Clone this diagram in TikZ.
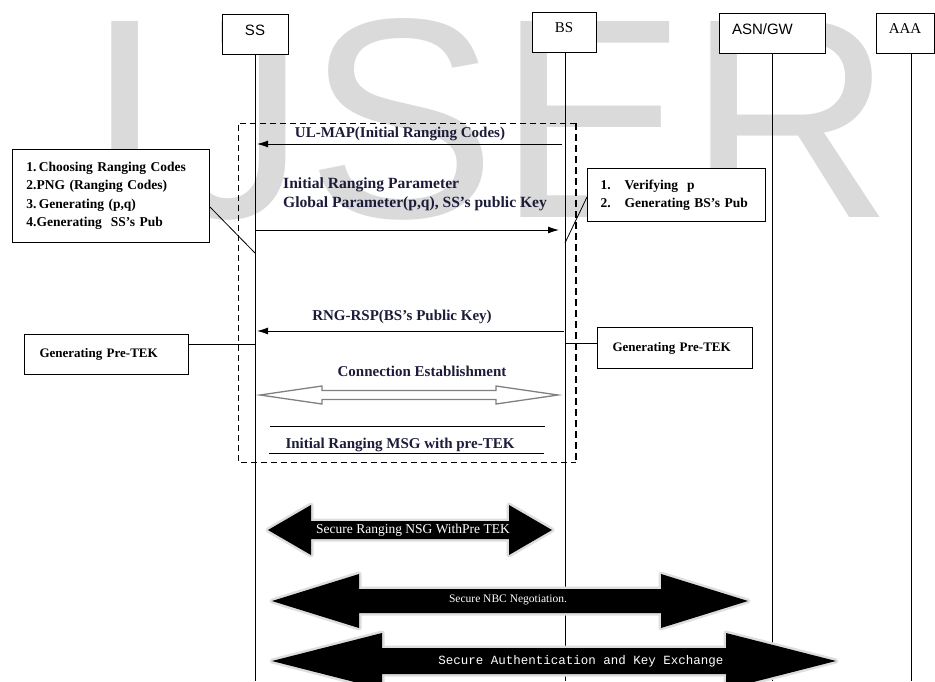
\documentclass[tikz,border=0pt]{standalone}
\usepackage{fontspec}
\setmainfont{Liberation Serif}
\setmonofont{Liberation Mono}
\newfontfamily\hdrsans{Liberation Sans}
\newfontfamily\wmfont{Liberation Sans}
\usetikzlibrary{arrows.meta}

\definecolor{wmgray}{RGB}{218,218,218}
\definecolor{lblcol}{RGB}{28,28,58}
\definecolor{glow}{RGB}{222,222,222}

% double arrow: #1 style, #2 left tip, #3 right tip, #4 mid y, #5 head length, #6 half head, #7 half shaft
\newcommand{\dblarrow}[7]{%
  \path[#1] (#2,#4) -- ({#2+#5},{#4-#6}) -- ({#2+#5},{#4-#7}) -- ({#3-#5},{#4-#7})
    -- ({#3-#5},{#4-#6}) -- (#3,#4) -- ({#3-#5},{#4+#6}) -- ({#3-#5},{#4+#7})
    -- ({#2+#5},{#4+#7}) -- ({#2+#5},{#4+#6}) -- cycle;}

\begin{document}
\begin{tikzpicture}[x=1pt,y=-1pt,
    hdr/.style={draw, fill=white, line width=1pt, minimum height=40pt, inner sep=0pt, text depth=8pt, font=\fontsize{15}{15}\selectfont},
    note/.style={draw, fill=white, line width=1pt, align=left, inner ysep=0pt, font=\fontsize{13.5}{18.5}\selectfont\bfseries},
    lbl/.style={inner sep=0pt, text=lblcol, font=\fontsize{15}{19}\selectfont\bfseries},
    life/.style={line width=.8pt},
    msg/.style={-{Latex[length=11pt,width=7pt]}, line width=.9pt},
    hollow/.style={draw=gray, line width=1.3pt, fill=white},
    fat/.style={fill=black, preaction={draw=glow, line width=5pt, line join=round}},
    fattxt/.style={inner sep=0pt, text=white}
]
\useasboundingbox (0,0) rectangle (935,681);

% watermark
\node[anchor=base west, inner sep=0pt, text=wmgray, font=\wmfont\fontsize{285}{285}\selectfont] (wm) at (85,217) {IJSER};

% dashed frame
\draw[line width=.8pt, dash pattern=on 6pt off 4pt] (576,123) -- (238,123) -- (238,462) -- (576,462);
\draw[line width=2.2pt, dash pattern=on 7pt off 4pt] (576,123) -- (576,462);

% entities
\node[hdr, minimum width=66pt, font=\hdrsans\fontsize{15}{15}\selectfont] (ss) at (255,34.5) {SS};
\node[hdr, minimum width=64pt] (bs) at (564,32) {BS};
\node[hdr, minimum width=106pt, text width=80pt, align=left, font=\hdrsans\fontsize{15}{15}\selectfont] (asn) at (772,33) {ASN/GW};
\node[hdr, minimum width=58pt] (aaa) at (905,33) {AAA};

% lifelines
\coordinate (ssL) at (ss.south);
\coordinate (bsL) at ([xshift=1pt]bs.south);
\coordinate (asnL) at (asn.south);
\coordinate (aaaL) at ([xshift=6pt]aaa.south);
\foreach \n in {ssL,bsL,asnL,aaaL}
  \draw[life] (\n) -- (\n |- 0,681);

% ranging messages
\draw[msg, shorten <=3pt, shorten >=2pt] (bsL |- 0,144) -- (ssL |- 0,144);
\node[lbl] (ulmap) at (400,134) {UL-MAP(Initial Ranging Codes)};

\node[lbl, anchor=west, align=left, font=\fontsize{15.6}{19}\selectfont\bfseries] (irp) at (283,194) {Initial Ranging Parameter\\Global Parameter(p,q), SS's public Key};
\draw[msg, shorten >=6pt] (ssL |- 0,230) -- (bsL |- 0,230);

\node[note, anchor=north west, minimum width=197pt, minimum height=93pt, text width=169pt, inner xsep=14pt] (prep) at (12,149)
  {1.\,Choosing Ranging Codes\\2.PNG (Ranging Codes)\\3.\,Generating (p,q)\\4.Generating\ \ SS's Pub};
\draw[life] (prep.east |- 0,207) -- (ssL |- 0,253);

\node[note, anchor=north west, minimum width=178pt, minimum height=53pt, text width=152pt, inner xsep=13pt] (verif) at (587,168)
  {1.\hspace{14pt}Verifying\ \ p\\2.\hspace{14pt}Generating BS's Pub};
\draw[life] (verif.west |- 0,197) -- (bsL |- 0,243);

\draw[msg, shorten <=1pt, shorten >=2pt] (bsL |- 0,331) -- (ssL |- 0,331);
\node[lbl] (rngrsp) at (402,317) {RNG-RSP(BS's Public Key)};

% pre-TEK generation
\node[note, anchor=north west, minimum width=164pt, minimum height=40pt, text width=134pt, inner xsep=15pt, font=\fontsize{13}{15}\selectfont\bfseries] (lpre) at (24,334) {Generating Pre-TEK};
\draw[life] (lpre.east |- 0,344) -- (ssL |- 0,344);
\node[note, anchor=north west, minimum width=155pt, minimum height=41pt, text width=125pt, inner xsep=15pt, font=\fontsize{13}{15}\selectfont\bfseries] (rpre) at (597,327) {Generating Pre-TEK};
\draw[life] (bsL |- 0,343) -- (rpre.west |- 0,343);

% connection establishment
\node[lbl] (conn) at (422,371) {Connection Establishment};
\dblarrow{hollow}{260}{558}{395}{62}{9}{4.5}
\draw[life] (270,426) -- (545,426);
\node[lbl] (irmsg) at (400,445) {Initial Ranging MSG with pre-TEK};
\draw[life] (269,453) -- (544,453);

% secure exchanges
\dblarrow{fat}{268}{552}{530}{43}{25}{9}
\node[fattxt, font=\fontsize{13.5}{15}\selectfont] (sec1) at (413,530) {Secure Ranging NSG WithPre TEK};
\dblarrow{fat}{272}{748}{601}{87}{27}{12}
\node[fattxt, font=\fontsize{11.5}{13}\selectfont] (sec2) at (508,600) {Secure NBC Negotiation.};
\dblarrow{fat}{272}{836}{661}{110}{28}{13}
\node[fattxt, font=\ttfamily\fontsize{12.5}{14}\selectfont] (sec3) at (581,661) {Secure Authentication and Key Exchange};

\end{tikzpicture}
\end{document}
